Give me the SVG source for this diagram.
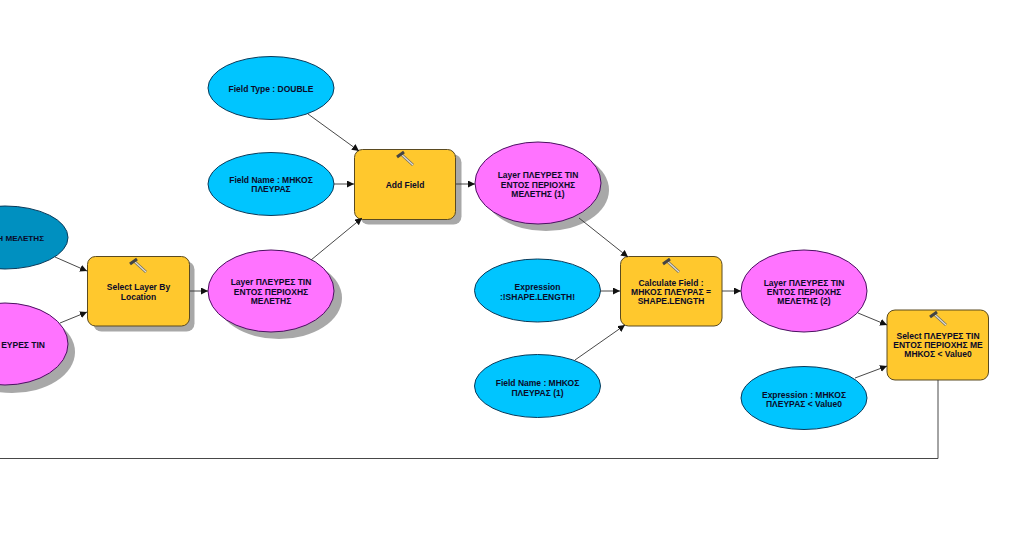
<svg xmlns="http://www.w3.org/2000/svg" width="1024" height="559" viewBox="0 0 1024 559">
<style>
text{font-family:"Liberation Sans",Arial,sans-serif;font-size:8.5px;font-weight:bold;fill:#0a0a28;text-anchor:middle}
.c{fill:#00c5ff;stroke:#0a3a5a;stroke-width:1}
.d{fill:#0090c0;stroke:#0a3a5a;stroke-width:1}
.p{fill:#ff73ff;stroke:#4a1060;stroke-width:1}
.r{fill:#ffc82d;stroke:#5a4a20;stroke-width:1}
.s{fill:#a8a8a8}
.l{fill:none;stroke:#333;stroke-width:.9}
.h0{stroke:#666;stroke-width:2.6;fill:none}
.h1{stroke:#444;stroke-width:3;fill:none}
.h2{stroke:#e4e0d0;stroke-width:1.2;fill:none}
</style>
<defs>
<marker id="a" markerUnits="userSpaceOnUse" markerWidth="8" markerHeight="8" refX="7" refY="3.5" orient="auto"><path d="M0 0L7 3.5L0 7z" fill="#111"/></marker>
<g id="ham"><path class="h0" d="M-3 -3L8 7"/><path class="h2" d="M-3 -3L8 7"/><path class="h1" d="M-8 -1L-1 -6"/></g>
</defs>
<rect width="1024" height="559" fill="#fff"/>
<g id="n1"><ellipse class="d" cx="5" cy="237.500" rx="63" ry="31.500"/><text x="44" y="241" style="text-anchor:end;font-size:8.1px">Η ΜΕΛΕΤΗΣ</text></g>
<g id="n2"><ellipse class="s" cx="12" cy="352" rx="63" ry="41"/><ellipse class="p" cx="5" cy="344" rx="63" ry="41"/><text x="45" y="348" style="text-anchor:end">ΕΥΡΕΣ ΤΙΝ</text></g>
<g id="n3"><rect class="s" x="93.500" y="261.500" width="101" height="70" rx="8"/><rect class="r" x="87.500" y="256.500" width="102" height="69.500" rx="8"/><use href="#ham" x="138" y="265"/><text x="138.500" y="290">Select Layer By</text><text x="138.500" y="299.500">Location</text></g>
<g id="n4"><ellipse class="s" cx="279" cy="298" rx="63" ry="41"/><ellipse class="p" cx="271" cy="291" rx="63" ry="41"/><text x="271" y="285">Layer ΠΛΕΥΡΕΣ ΤΙΝ</text><text x="271" y="294.500">ΕΝΤΟΣ ΠΕΡΙΟΧΗΣ</text><text x="271" y="304">ΜΕΛΕΤΗΣ</text></g>
<g id="n5"><ellipse class="c" cx="271" cy="88" rx="63" ry="31.500"/><text x="271" y="92">Field Type : DOUBLE</text></g>
<g id="n6"><ellipse class="c" cx="271" cy="184" rx="63" ry="31.500"/><text x="271" y="182.500">Field Name : ΜΗΚΟΣ</text><text x="271" y="192">ΠΛΕΥΡΑΣ</text></g>
<g id="n7"><rect class="s" x="360.500" y="154.500" width="101" height="70" rx="8"/><rect class="r" x="354.500" y="149.500" width="101" height="70" rx="8"/><use href="#ham" x="405" y="158"/><text x="405" y="187.500">Add Field</text></g>
<g id="n8"><ellipse class="s" cx="546" cy="190" rx="63" ry="41"/><ellipse class="p" cx="538" cy="183" rx="63" ry="41"/><text x="538" y="178">Layer ΠΛΕΥΡΕΣ ΤΙΝ</text><text x="538" y="187.500">ΕΝΤΟΣ ΠΕΡΙΟΧΗΣ</text><text x="538" y="197">ΜΕΛΕΤΗΣ (1)</text></g>
<g id="n9"><ellipse class="c" cx="537.500" cy="290.500" rx="63" ry="31.500"/><text x="537.500" y="290">Expression</text><text x="537.500" y="299.500">:!SHAPE.LENGTH!</text></g>
<g id="n10"><ellipse class="c" cx="537.500" cy="386" rx="63" ry="31.500"/><text x="537.500" y="386">Field Name : ΜΗΚΟΣ</text><text x="537.500" y="395.500">ΠΛΕΥΡΑΣ (1)</text></g>
<g id="n11"><rect class="r" x="620.500" y="256.500" width="101.500" height="69.500" rx="8"/><use href="#ham" x="671" y="265"/><text x="671" y="285.500">Calculate Field :</text><text x="671" y="294.500">ΜΗΚΟΣ ΠΛΕΥΡΑΣ =</text><text x="671" y="304">SHAPE.LENGTH</text></g>
<g id="n12"><ellipse class="p" cx="804" cy="291" rx="63" ry="41"/><text x="804" y="285.500">Layer ΠΛΕΥΡΕΣ ΤΙΝ</text><text x="804" y="294.500">ΕΝΤΟΣ ΠΕΡΙΟΧΗΣ</text><text x="804" y="304">ΜΕΛΕΤΗΣ (2)</text></g>
<g id="n13"><ellipse class="c" cx="804" cy="398" rx="63" ry="31.500"/><text x="804" y="397.500">Expression : ΜΗΚΟΣ</text><text x="804" y="407">ΠΛΕΥΡΑΣ &lt; Value0</text></g>
<g id="n14"><rect class="r" x="887" y="310" width="101.500" height="70" rx="8"/><use href="#ham" x="938" y="318"/><text x="938" y="338.500">Select ΠΛΕΥΡΕΣ ΤΙΝ</text><text x="938" y="347.500">ΕΝΤΟΣ ΠΕΡΙΟΧΗΣ ΜΕ</text><text x="938" y="357">ΜΗΚΟΣ &lt; Value0</text></g>
<g id="connectors">
<path class="l" marker-end="url(#a)" d="M55 257L87 271"/>
<path class="l" marker-end="url(#a)" d="M60 323L87 312"/>
<path class="l" marker-end="url(#a)" d="M190 291L208 291"/>
<path class="l" marker-end="url(#a)" d="M311 260L362 218"/>
<path class="l" marker-end="url(#a)" d="M308 114L359 151"/>
<path class="l" marker-end="url(#a)" d="M334 184L354 184"/>
<path class="l" marker-end="url(#a)" d="M456 184L475 184"/>
<path class="l" marker-end="url(#a)" d="M579 218L628 257"/>
<path class="l" marker-end="url(#a)" d="M600 291L620 291"/>
<path class="l" marker-end="url(#a)" d="M575 360L625 325"/>
<path class="l" marker-end="url(#a)" d="M722 291L741 291"/>
<path class="l" marker-end="url(#a)" d="M858 313L887 325"/>
<path class="l" marker-end="url(#a)" d="M855 378L887 366"/>
<path class="l" d="M938 380V458.500H0"/>
</g>
</svg>
